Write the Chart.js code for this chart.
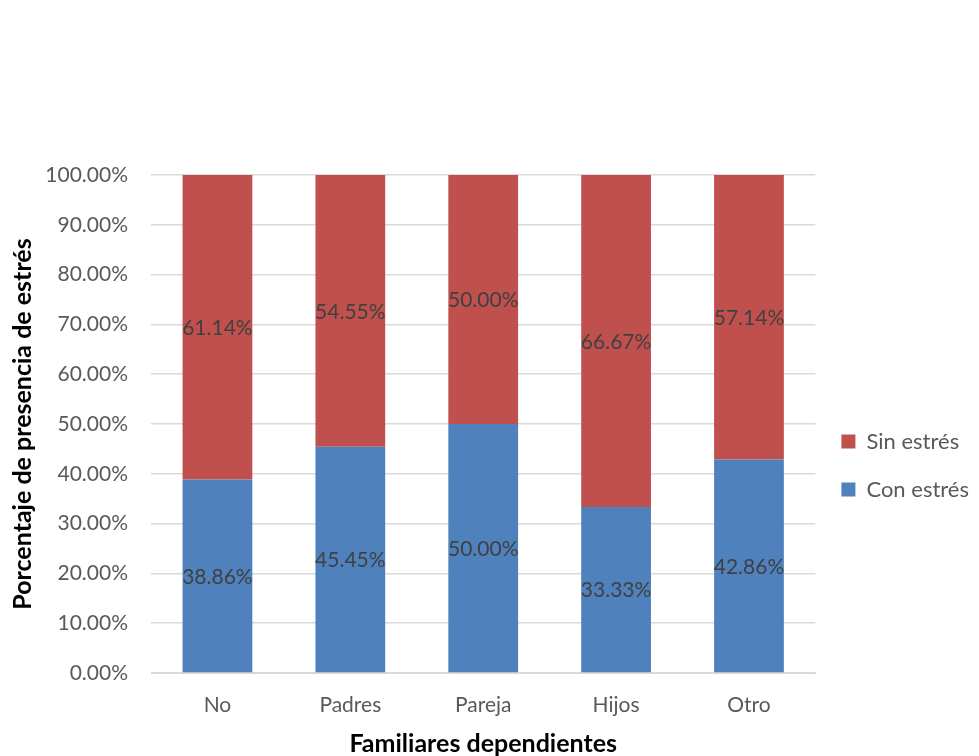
<!DOCTYPE html>
<html>
<head>
<meta charset="utf-8">
<script src="https://cdn.jsdelivr.net/npm/chart.js@4.4.6/dist/chart.umd.min.js"></script>
<style>
  html, body { margin: 0; padding: 0; background: #fff; overflow: hidden; }
  #wrap { width: 979px; height: 756px; position: relative; }
</style>
</head>
<body>
<div id="wrap"><canvas id="chart"></canvas></div>
<script>
// categories and values
const categories = ["No", "Padres", "Pareja", "Hijos", "Otro"];
const conEstres = [38.86, 45.45, 50.00, 33.33, 42.86];
const sinEstres = [61.14, 54.55, 50.00, 66.67, 57.14];

const colors = { con: "#4F81BD", sin: "#C0504D" };
const fontFamily = "Lato, 'Open Sans', sans-serif";

// draw the value of every segment in the middle of it
const barLabels = {
  id: "barLabels",
  afterDatasetsDraw(chart) {
    const ctx = chart.ctx;
    ctx.save();
    ctx.font = "21px " + fontFamily;
    ctx.fillStyle = "#404040";
    ctx.textAlign = "center";
    ctx.textBaseline = "middle";
    chart.data.datasets.forEach((ds, i) => {
      chart.getDatasetMeta(i).data.forEach((bar, j) => {
        const mid = (bar.y + bar.base) / 2;
        ctx.fillText(ds.data[j].toFixed(2) + "%", bar.x, mid + 1);
      });
    });
    ctx.restore();
  }
};

new Chart(document.getElementById("chart"), {
  type: "bar",
  data: {
    labels: categories,
    datasets: [
      { label: "Con estrés", data: conEstres, backgroundColor: colors.con },
      { label: "Sin estrés", data: sinEstres, backgroundColor: colors.sin }
    ]
  },
  options: {
    responsive: true,
    maintainAspectRatio: false,
    animation: false,
    datasets: { bar: { barPercentage: 0.525, categoryPercentage: 1.0 } },
    layout: { padding: { top: 175, left: 8, right: 0, bottom: 0 } },
    plugins: {
      legend: {
        position: "right",
        reverse: true,
        labels: {
          boxWidth: 14,
          boxHeight: 14,
          padding: 26,
          color: "#595959",
          font: { family: fontFamily, size: 22 }
        }
      },
      tooltip: { enabled: false }
    },
    scales: {
      x: {
        stacked: true,
        grid: { display: false },
        border: { color: "#d9d9d9" },
        ticks: { color: "#595959", font: { family: fontFamily, size: 21, lineHeight: 1 }, padding: 14 },
        title: {
          display: true,
          text: "Familiares dependientes",
          color: "#000",
          font: { family: fontFamily, size: 25, weight: "bold", lineHeight: 1 },
          padding: { top: 1, bottom: 0 }
        }
      },
      y: {
        stacked: true,
        min: 0,
        max: 100,
        afterFit: axis => { axis.width = 143; },
        ticks: {
          stepSize: 10,
          color: "#595959",
          font: { family: fontFamily, size: 21 },
          padding: 23,
          callback: v => v.toFixed(2) + "%"
        },
        grid: { color: "#d9d9d9", lineWidth: 1.5, drawTicks: false },
        border: { display: false },
        title: {
          display: true,
          text: "Porcentaje de presencia de estrés",
          color: "#000",
          font: { family: fontFamily, size: 25, weight: "bold" },
          padding: { top: 0, bottom: 0 }
        }
      }
    }
  },
  plugins: [barLabels]
});
</script>
</body>
</html>
